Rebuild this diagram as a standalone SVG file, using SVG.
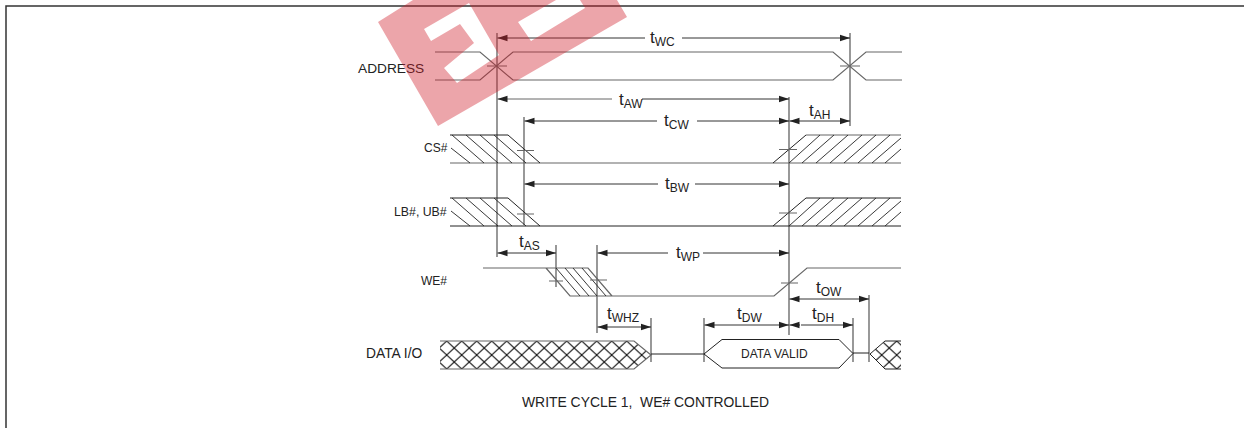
<svg xmlns="http://www.w3.org/2000/svg" width="1244" height="428" viewBox="0 0 1244 428">
<style>
text{font-family:"Liberation Sans",Arial,sans-serif;fill:#222;white-space:pre}
.t{font-size:17px}
.s{font-size:12px}
.g{fill:none;stroke:#666;stroke-width:1.2}
.v{fill:none;stroke:#555;stroke-width:1.2}
.b{fill:none;stroke:#222;stroke-width:1}
.h{fill:none;stroke:#222;stroke-width:.9}
.a{fill:none;stroke:#333;stroke-width:1;marker-end:url(#ah)}
</style>
<defs>
<marker id="ah" markerUnits="userSpaceOnUse" markerWidth="11" markerHeight="8" refX="10" refY="4" orient="auto"><path d="M0 .8L10 4L0 7.2z" fill="#222"/></marker>
<pattern id="xh" patternUnits="userSpaceOnUse" x="551.7" y="341" width="15" height="14"><path d="M0 0L15 14M15 0L0 14" stroke="#111" stroke-width="1.1" fill="none"/></pattern>
</defs>
<rect width="1244" height="428" fill="#fff"/>
<path id="frame" d="M6 428V6H1244" fill="none" stroke="#333" stroke-width="1.500"/>
<g id="connectors">
<path class="v" d="M497 33V257M850 33V126M524 117V225M789 97V335M556 245V287M597 245V333M651 318V362M704 318V362M853 318V362M869 295V362"/>
<path class="a" d="M645 38H497.500"/><path class="a" d="M682 38H850"/>
<path class="a" d="M612 99H497.500" style="stroke:#666"/><path class="a" d="M642 99H789"/>
<path class="a" d="M657 121H524.500"/><path class="a" d="M697 121H789"/>
<path class="a" d="M820 121H789.500"/><path class="a" d="M820 121H850"/>
<path class="a" d="M658 184H524.500"/><path class="a" d="M695 184H789"/>
<path class="a" d="M526 253H497.500"/><path class="a" d="M526 253H556"/>
<path class="a" d="M668 253H597.500"/><path class="a" d="M703 253H789"/>
<path class="a" d="M624 327H597.500"/><path class="a" d="M624 327H651"/>
<path class="a" d="M830 299H789.500"/><path class="a" d="M830 299H869"/>
<path class="a" d="M746 325H704.500"/><path class="a" d="M746 325H789"/>
<path class="a" d="M800 325H789.500"/><path class="a" d="M801 325H853"/>
</g>
<g id="address">
<text x="358" y="73" font-size="13.700">ADDRESS</text>
<path class="g" d="M435 52H480L513 80H833L866 52H902M435 80H480L513 52H833L866 80H902"/>
<path class="g" d="M487 66H507M840 66H860"/>
</g>
<g id="cs">
<text x="424" y="152" font-size="12">CS#</text>
<path class="g" d="M450 163H901M806 135H901"/>
<path class="b" d="M450 135H508L540 163M773 163L806 135"/>
<path class="h" d="M451 148L470 163M452 135L484 163M466 135L498 163M480 135L512 163M494 135L526 163M789 163L820 135M802 163L834 135M816 163L848 135M830 163L862 135M844 163L876 135M858 163L890 135M872 163L901 138M885 163L901 149"/>
<path class="g" d="M517 150.500H534M779 149.500H797"/>
</g>
<g id="lb">
<text x="394" y="216" font-size="12.300">LB#, UB#</text>
<path class="b" d="M450 226H901M450 198H508L540 226M773 226L806 198H901"/>
<path class="h" d="M451 211L470 226M452 198L484 226M466 198L498 226M480 198L512 226M494 198L526 226M789 226L820 198M802 226L834 198M816 226L848 198M830 226L862 198M844 226L876 198M858 226L890 198M872 226L901 201M885 226L901 212"/>
<path class="g" d="M517 214H534M779 213H797"/>
</g>
<g id="we">
<text x="421" y="285" font-size="12">WE#</text>
<path class="g" d="M483 268H588L612 296M546 268L570 296H774L807 268H901"/>
<path class="h" d="M556 268L580 296M565 268L589 296M573 268L597 296M582 268L606 296"/>
<path class="g" d="M549 281H563M590 280H607M781 283H798"/>
</g>
<g id="dataio">
<text x="366" y="358" font-size="13.800">DATA I/O</text>
<path d="M440 341H634L651 355L634 369H440z" fill="url(#xh)"/>
<path class="g" d="M440 341H634L651 355L634 369H440"/>
<path class="b" d="M651 354H704M853 353H869"/>
</g>
<g id="datavalid">
<path class="b" d="M704 354L722 339.500H839L853 353.500L839 368H722z" fill="#fff"/>
<text x="741" y="358" font-size="12">DATA VALID</text>
</g>
<g id="dataend">
<path d="M870 354L885 341H901V369H885z" fill="url(#xh)"/>
<path class="b" d="M901 341H885L870 354L885 369H901"/>
</g>
<g id="labels">
<text class="t" x="650" y="43">t<tspan class="s" dy="2.500">WC</tspan></text>
<text class="t" x="619" y="105">t<tspan class="s" dy="2.500">AW</tspan></text>
<text class="t" x="664" y="126">t<tspan class="s" dy="2.500">CW</tspan></text>
<text class="t" x="809" y="116">t<tspan class="s" dy="2.500">AH</tspan></text>
<text class="t" x="665" y="189">t<tspan class="s" dy="2.500">BW</tspan></text>
<text class="t" x="519" y="247">t<tspan class="s" dy="2.500">AS</tspan></text>
<text class="t" x="676" y="258">t<tspan class="s" dy="2.500">WP</tspan></text>
<text class="t" x="607" y="319">t<tspan class="s" dy="2.500">WHZ</tspan></text>
<text class="t" x="816" y="293">t<tspan class="s" dy="2.500">OW</tspan></text>
<text class="t" x="737" y="319">t<tspan class="s" dy="2.500">DW</tspan></text>
<text class="t" x="812" y="319">t<tspan class="s" dy="2.500">DH</tspan></text>
<text x="522" y="406.500" font-size="13.900">WRITE CYCLE 1,  WE# CONTROLLED</text>
</g>
<path id="watermark" fill-rule="evenodd" fill="#cf1e2a" fill-opacity=".4" d="M378 22L413 0H617L627 17L438 126zM424 29L431 41L460 24L474 43L444 68L457 83L499 55L469 3zM518 22L531 41L585 8L580 0H556z"/>
</svg>
